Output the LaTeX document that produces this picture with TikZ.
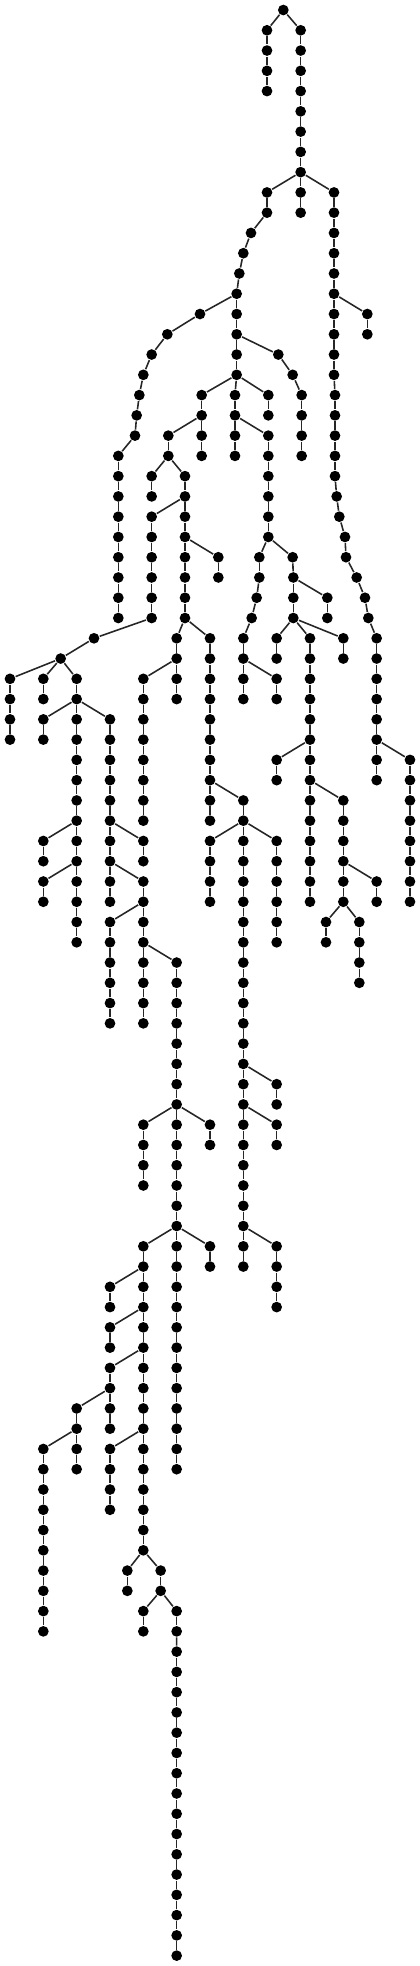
\documentclass[tikz,border=0pt]{standalone}
\usepackage{tikz}
\tikzset{
  vnode/.style={circle, fill=black, inner sep=0pt, minimum size=1.07mm},
  link/.style={line width=0.45pt, color=black!85}
}
\begin{document}
\begin{tikzpicture}[x=0.33333cm, y=-0.20267cm]
  \useasboundingbox (0,-0.4934) rectangle (12.6,96.512);
  % root, then level/x/parent-x (parent sits one level up)
  \node[vnode] (v0-850) at (8.5,0) {};
  \foreach \l/\x/\p in {
    1/801/850, 1/902/850, 2/801/801, 2/902/902, 3/801/801, 3/902/902, 4/801/801, 4/902/902,
    5/902/902, 6/902/902, 7/902/902, 8/902/902,
    9/801/902, 9/902/902, 9/1002/902,
    10/801/801, 10/902/902, 10/1002/1002,
    11/753/801, 11/1002/1002, 12/730/753, 12/1002/1002, 13/718/730, 13/1002/1002, 14/710/718, 14/1002/1002,
    15/600/710, 15/710/710, 15/1002/1002, 15/1102/1002,
    16/502/600, 16/710/710, 16/1002/1002, 16/1102/1102,
    17/455/502, 17/710/710, 17/835/710, 17/1002/1002,
    18/430/455, 18/710/710, 18/878/835, 18/1002/1002,
    19/418/430, 19/605/710, 19/705/710, 19/805/710, 19/905/878, 19/1005/1002,
    20/410/418, 20/605/605, 20/705/705, 20/805/805, 20/905/905, 20/1005/1005,
    21/405/410, 21/505/605, 21/605/605, 21/705/705, 21/805/705, 21/905/905, 21/1005/1005,
    22/355/405, 22/505/505, 22/605/605, 22/705/705, 22/805/805, 22/905/905, 22/1005/1005,
    23/355/355, 23/455/505, 23/555/505, 23/805/805, 23/1005/1005,
    24/355/355, 24/455/455, 24/555/555, 24/805/805, 24/1010/1005,
    25/355/355, 25/455/555, 25/555/555, 25/805/805, 25/1018/1010,
    26/355/355, 26/455/455, 26/555/555, 26/805/805, 26/1035/1018,
    27/355/355, 27/455/455, 27/555/555, 27/655/555, 27/778/805, 27/878/805, 27/1038/1035,
    28/355/355, 28/455/455, 28/555/555, 28/655/655, 28/778/778, 28/880/878, 28/1070/1038,
    29/355/355, 29/455/455, 29/555/555, 29/770/778, 29/880/880, 29/982/880, 29/1095/1070,
    30/355/355, 30/455/455, 30/555/555, 30/755/770, 30/880/880, 30/982/982, 30/1105/1095,
    31/282/455, 31/530/555, 31/630/555, 31/730/755, 31/830/880, 31/930/880, 31/1030/880, 31/1130/1105,
    32/182/282, 32/530/530, 32/630/630, 32/730/730, 32/830/830, 32/930/930, 32/1030/1030, 32/1130/1130,
    33/30/182, 33/130/182, 33/230/182, 33/430/530, 33/530/530, 33/630/630, 33/730/730, 33/830/730, 33/930/930, 33/1130/1130,
    34/30/30, 34/130/130, 34/230/230, 34/430/430, 34/530/530, 34/630/630, 34/730/730, 34/830/830, 34/930/930, 34/1130/1130,
    35/30/30, 35/130/230, 35/230/230, 35/330/230, 35/430/430, 35/630/630, 35/930/930, 35/1130/1130,
    36/30/30, 36/130/130, 36/230/230, 36/330/330, 36/430/430, 36/630/630, 36/930/930, 36/1130/1130,
    37/230/230, 37/330/330, 37/430/430, 37/630/630, 37/830/930, 37/930/930, 37/1130/1130, 37/1230/1130,
    38/230/230, 38/330/330, 38/430/430, 38/630/630, 38/830/830, 38/930/930, 38/1130/1130, 38/1230/1230,
    39/230/230, 39/330/330, 39/430/430, 39/630/630, 39/730/630, 39/930/930, 39/1030/930, 39/1230/1230,
    40/230/230, 40/330/330, 40/430/430, 40/630/630, 40/730/730, 40/930/930, 40/1030/1030, 40/1230/1230,
    41/130/230, 41/230/230, 41/330/330, 41/430/330, 41/630/730, 41/730/730, 41/830/730, 41/930/930, 41/1030/1030, 41/1230/1230,
    42/130/130, 42/230/230, 42/330/330, 42/430/430, 42/630/630, 42/730/730, 42/830/830, 42/930/930, 42/1030/1030, 42/1230/1230,
    43/130/230, 43/230/230, 43/330/330, 43/430/330, 43/630/630, 43/730/730, 43/830/830, 43/930/930, 43/1030/1030, 43/1130/1030, 43/1230/1230,
    44/130/130, 44/230/230, 44/330/330, 44/430/430, 44/630/630, 44/730/730, 44/830/830, 44/930/930, 44/1030/1030, 44/1130/1130, 44/1230/1230,
    45/230/230, 45/330/430, 45/430/430, 45/730/730, 45/830/830, 45/978/1030, 45/1078/1030,
    46/230/230, 46/330/330, 46/430/430, 46/730/730, 46/830/830, 46/978/978, 46/1078/1078,
    47/330/330, 47/430/430, 47/530/430, 47/730/730, 47/1078/1078,
    48/330/330, 48/430/430, 48/530/530, 48/730/730, 48/1078/1078,
    49/330/330, 49/430/430, 49/530/530, 49/730/730,
    50/330/330, 50/430/430, 50/530/530, 50/730/730,
    51/530/530, 51/730/730, 52/530/530, 52/730/730,
    53/530/530, 53/730/730, 53/830/730,
    54/530/530, 54/730/730, 54/830/830,
    55/430/530, 55/530/530, 55/630/530, 55/730/730, 55/830/730,
    56/430/430, 56/530/530, 56/630/630, 56/730/730, 56/830/830,
    57/430/430, 57/530/530, 57/730/730,
    58/430/430, 58/530/530, 58/730/730,
    59/530/530, 59/730/730, 60/530/530, 60/730/730,
    61/430/530, 61/530/530, 61/630/530, 61/730/730, 61/830/730,
    62/430/430, 62/530/530, 62/630/630, 62/730/730, 62/830/830,
    63/330/430, 63/430/430, 63/530/530, 63/830/830,
    64/330/330, 64/430/430, 64/530/530, 64/830/830,
    65/330/430, 65/430/430, 65/530/530,
    66/330/330, 66/430/430, 66/530/530,
    67/330/430, 67/430/430, 67/530/530,
    68/330/330, 68/430/430, 68/530/530,
    69/230/330, 69/330/330, 69/430/430, 69/530/530,
    70/230/230, 70/330/330, 70/430/430, 70/530/530,
    71/130/230, 71/230/230, 71/330/430, 71/430/430, 71/530/530,
    72/130/130, 72/230/230, 72/330/330, 72/430/430, 72/530/530,
    73/130/130, 73/330/330, 73/430/430,
    74/130/130, 74/330/330, 74/430/430,
    75/130/130, 75/430/430, 76/130/130, 76/430/430,
    77/130/130, 77/382/430, 77/482/430,
    78/130/130, 78/382/382, 78/482/482,
    79/130/130, 79/430/482, 79/530/482,
    80/130/130, 80/430/430, 80/530/530} {
    \pgfmathtruncatemacro\pl{\l-1}
    \node[vnode] (v\l-\x) at (\x/100,\l) {};
    \draw[link] (v\pl-\p) -- (v\l-\x);
  }
  % long tail at the bottom
  \foreach \l in {81,...,96} {
    \pgfmathtruncatemacro\pl{\l-1}
    \node[vnode] (v\l-530) at (5.3,\l) {};
    \draw[link] (v\pl-530) -- (v\l-530);
  }
\end{tikzpicture}
\end{document}
